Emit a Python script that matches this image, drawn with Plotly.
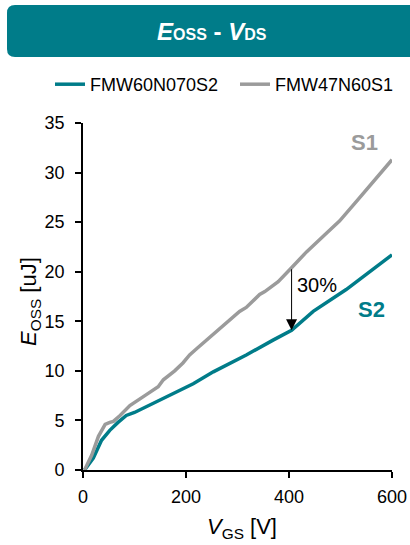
import numpy as np
import plotly.graph_objects as go

# ---------------- data ----------------
series_names = ["FMW60N070S2", "FMW47N60S1"]

v_s2 = [3, 20, 36, 52, 68, 84, 100, 136, 175, 214, 253, 317, 369, 405, 447, 511, 600]
e_s2 = [0, 1.2, 3.0, 4.0, 4.8, 5.5, 5.8, 6.7, 7.7, 8.7, 9.9, 11.6, 13.1, 14.1, 16.0, 18.2, 21.7]

v_s1 = [3, 17, 30, 43, 52, 59, 72, 91, 123, 146, 156, 169, 178, 194, 207, 220, 246,
        285, 304, 317, 343, 353, 379, 405, 434, 469, 498, 531, 563, 600]
e_s1 = [0, 1.5, 3.4, 4.6, 4.8, 4.9, 5.5, 6.5, 7.6, 8.4, 9.1, 9.6, 10.0, 10.8, 11.6, 12.2, 13.4,
        15.2, 16.0, 16.4, 17.7, 18.0, 19.0, 20.4, 22.0, 23.7, 25.1, 27.1, 29.1, 31.3]

x_ticks = [0, 200, 400, 600]
y_ticks = [0, 5, 10, 15, 20, 25, 30, 35]
arrow_v = 405
arrow_label = "30%"

# ---------------- style ----------------
TEAL = "#007C89"
GRAY = "#9B9B9B"
FONT = "Arial, Liberation Sans, sans-serif"

W, H = 410, 545
ML, MR, MT, MB = 83, 18, 123, 75
PW, PH = W - ML - MR, H - MT - MB


def px_x(p):
    return (p - ML) / PW


def px_y(p):
    return (H - MB - p) / PH


fig = go.Figure()
fig.add_trace(go.Scatter(x=v_s2, y=e_s2, mode="lines", name=series_names[0],
                         line=dict(color=TEAL, width=3.5)))
fig.add_trace(go.Scatter(x=v_s1, y=e_s1, mode="lines", name=series_names[1],
                         line=dict(color=GRAY, width=3.5)))

# title banner with rounded left corners
l, r, t, b = px_x(7), px_x(420), px_y(5), px_y(57)
rx, ry = 8 / PW, 8 / PH
path = (f"M {l+rx},{t} L {r},{t} L {r},{b} L {l+rx},{b} "
        f"Q {l},{b} {l},{b+ry} L {l},{t-ry} Q {l},{t} {l+rx},{t} Z")
fig.add_shape(type="path", path=path, xref="paper", yref="paper",
              fillcolor=TEAL, line=dict(width=0), layer="below")

ann = []
ann.append(dict(text="<b><i>E</i><span style='font-size:16px'>OSS</span> - <i>V</i>"
                     "<span style='font-size:16px'>DS</span></b>",
                x=px_x(212), y=px_y(31), xref="paper", yref="paper",
                showarrow=False, font=dict(family=FONT, size=24, color="white"),
                xanchor="center", yanchor="middle"))
# axis titles
ann.append(dict(text="<i>E</i><sub>OSS</sub> [uJ]", textangle=-90,
                x=px_x(30), y=px_y(302), xref="paper", yref="paper",
                showarrow=False, font=dict(family=FONT, size=22, color="black"),
                xanchor="center", yanchor="middle"))
ann.append(dict(text="<i>V</i><sub>GS</sub> [V]",
                x=px_x(242), y=px_y(528), xref="paper", yref="paper",
                showarrow=False, font=dict(family=FONT, size=22, color="black"),
                xanchor="center", yanchor="middle"))
# series labels
ann.append(dict(text="<b>S1</b>", x=547, y=33.0, xref="x", yref="y", showarrow=False,
                font=dict(family=FONT, size=22, color=GRAY)))
ann.append(dict(text="<b>S2</b>", x=560, y=16.2, xref="x", yref="y", showarrow=False,
                font=dict(family=FONT, size=22, color=TEAL)))
# 30% arrow
y_start = float(np.interp(arrow_v, v_s1, e_s1))
y_end = float(np.interp(arrow_v, v_s2, e_s2))
ann.append(dict(text="", x=arrow_v, y=y_end, ax=arrow_v, ay=y_start,
                xref="x", yref="y", axref="x", ayref="y", showarrow=True,
                arrowhead=2, arrowsize=2.2, arrowwidth=1, arrowcolor="black", standoff=0))
ann.append(dict(text=arrow_label, x=455, y=18.7, xref="x", yref="y", showarrow=False,
                font=dict(family=FONT, size=20, color="black")))

fig.update_layout(
    width=W, height=H,
    margin=dict(l=ML, r=MR, t=MT, b=MB, autoexpand=False),
    paper_bgcolor="white", plot_bgcolor="white",
    font=dict(family=FONT, size=18, color="black"),
    showlegend=True,
    legend=dict(orientation="h", x=px_x(50), y=px_y(66), xanchor="left", yanchor="top",
                font=dict(family=FONT, size=18, color="black"),
                bgcolor="rgba(0,0,0,0)", itemwidth=30, tracegroupgap=0,
                entrywidth=140),
    annotations=ann,
    xaxis=dict(range=[0, 600], tickvals=x_ticks, showgrid=False, zeroline=False,
               showline=True, linecolor="black", linewidth=1.6,
               ticks="outside", ticklen=6, tickwidth=1.6, tickcolor="black",
               tickfont=dict(size=18), ticklabelstandoff=4, fixedrange=True),
    yaxis=dict(range=[0, 35], tickvals=y_ticks, showgrid=False, zeroline=False,
               showline=True, linecolor="black", linewidth=1.6,
               ticks="outside", ticklen=6, tickwidth=1.6, tickcolor="black",
               tickfont=dict(size=18), ticklabelstandoff=7, fixedrange=True),
)

fig.write_html("out.html", config={"displayModeBar": False},
               post_script="document.body.style.margin='0';document.body.style.overflow='hidden';")
